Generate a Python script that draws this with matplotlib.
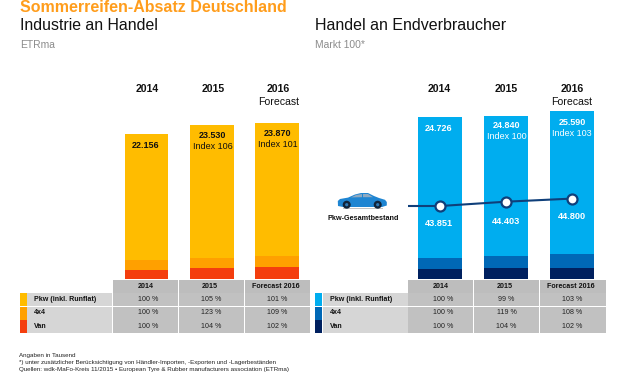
import matplotlib
matplotlib.use('Agg')
import matplotlib.pyplot as plt
from matplotlib.patches import Rectangle, Polygon, Circle

plt.rcParams['font.family'] = ['Liberation Sans', 'DejaVu Sans']

W, H = 620, 379

# Daten
years = ['2014', '2015', '2016']
head_cols = ['2014', '2015', 'Forecast 2016']
rows = ['Pkw (inkl. Runflat)', '4x4', 'Van']

handel_van = [1420, 1730, 1880]
handel_4x4 = [1480, 1530, 1640]
handel_pkw = [19256, 20270, 20350]
handel_labels = ['22.156', '23.530', '23.870']
handel_index = ['', 'Index 106', 'Index 101']
handel_table = [['100 %', '105 %', '101 %'],
                ['100 %', '123 %', '109 %'],
                ['100 %', '104 %', '102 %']]

endv_van = [1525, 1630, 1630]
endv_4x4 = [1680, 1870, 2130]
endv_pkw = [21521, 21340, 21830]
endv_labels = ['24.726', '24.840', '25.590']
endv_index = ['', 'Index 100', 'Index 103']
endv_table = [['100 %', '99 %', '103 %'],
              ['100 %', '119 %', '108 %'],
              ['100 %', '104 %', '102 %']]

bestand = [43851, 44403, 44800]
bestand_labels = ['43.851', '44.403', '44.800']

col_handel = ['#FFBC00', '#FFA000', '#F43E0E']
col_endv = ['#00ADEF', '#0068B6', '#00205F']


def px_axes(x0, y0, x1, y1):
    return fig.add_axes([x0 / W, 1 - y1 / H, (x1 - x0) / W, (y1 - y0) / H])


def stacked(ax, pkw, v4, van, cols):
    xs = range(len(pkw))
    b2 = [a + b for a, b in zip(van, v4)]
    ax.bar(xs, van, width=0.67, color=cols[2])
    ax.bar(xs, v4, width=0.67, bottom=van, color=cols[1])
    ax.bar(xs, pkw, width=0.67, bottom=b2, color=cols[0])
    ax.set_xlim(-0.5, 2.5)
    ax.axis('off')


fig = plt.figure(figsize=(W / 100, H / 100), dpi=100, facecolor='white')

# balken links
ax1 = px_axes(113.9, 100, 309.6, 279)
stacked(ax1, handel_pkw, handel_4x4, handel_van, col_handel)
ax1.set_ylim(0, 179 * 153)

# balken rechts
ax2 = px_axes(407.5, 100, 605, 279)
stacked(ax2, endv_pkw, endv_4x4, endv_van, col_endv)
ax2.set_ylim(0, 179 * 152.5)

# linie pkw-bestand auf eigener skala
ax3 = px_axes(407.5, 100, 605, 279)
ax3.patch.set_alpha(0)
ax3.axis('off')
ax3.set_xlim(-0.5, 2.5)
ax3.set_ylim(43851 - 73 * 128, 43851 + 106 * 128)
ax3.plot([-0.67, 0], [bestand[0], bestand[0]], color='#0F3F7A', lw=1.5, solid_capstyle='butt')
ax3.plot(range(3), bestand, color='#0F3F7A', lw=1.5, marker='o', ms=7.2,
         mfc='white', mec='#0F3F7A', mew=1.6)

# alles andere in pixelkoordinaten
ov = fig.add_axes([0, 0, 1, 1], zorder=5)
ov.patch.set_alpha(0)
ov.set_xlim(0, W)
ov.set_ylim(H, 0)
ov.axis('off')

ov.text(20, 7.5, 'Sommerreifen-Absatz Deutschland', fontsize=11.5, fontweight='bold', color='#FF9D1C', va='center')
ov.text(20, 26, 'Industrie an Handel', fontsize=11.4, color='#111111', va='center')
ov.text(20, 44.5, 'ETRma', fontsize=7.4, color='#8C8C8C', va='center')
ov.text(315, 26, 'Handel an Endverbraucher', fontsize=11.5, color='#111111', va='center')
ov.text(315, 44.5, 'Markt 100*', fontsize=7.4, color='#8C8C8C', va='center')

heads_l = [147.5, 213.5, 278.5]
heads_r = [439, 506.5, 572]
for i in range(3):
    ov.text(heads_l[i], 89, years[i], fontsize=7.6, fontweight='bold', ha='center', va='center', color='#111111')
    ov.text(heads_r[i], 89, years[i], fontsize=7.6, fontweight='bold', ha='center', va='center', color='#111111')
ov.text(278.5, 102, 'Forecast', fontsize=7.6, ha='center', va='center', color='#111111')
ov.text(572, 102, 'Forecast', fontsize=7.6, ha='center', va='center', color='#111111')

# werte in den balken
lab_l = [146, 212.7, 277.5]
lab_y_l = [145.5, 136, 133.5]
lab_r = [439, 506.5, 572]
lab_y_r = [128.5, 125.7, 122.5]
for i in range(3):
    ov.text(lab_l[i], lab_y_l[i], handel_labels[i], fontsize=6.5, fontweight='bold', ha='center', va='center', color='#111111')
    ov.text(lab_r[i], lab_y_r[i], endv_labels[i], fontsize=6.5, fontweight='bold', ha='center', va='center', color='white')
    if handel_index[i]:
        ov.text(lab_l[i], lab_y_l[i] + 10.7, handel_index[i], fontsize=6.5, ha='center', va='center', color='#111111')
        ov.text(lab_r[i], lab_y_r[i] + 10.7, endv_index[i], fontsize=6.5, ha='center', va='center', color='white')

best_y = [224, 221, 216.3]
for i in range(3):
    ov.text(lab_r[i], best_y[i], bestand_labels[i], fontsize=6.6, fontweight='bold', ha='center', va='center', color='white')

# auto
ov.add_patch(Rectangle((343, 207.5), 40, 1.5, fc='#C4C4C4', ec='none'))
body = [(338, 206), (337.8, 201), (340, 199), (348, 197.6), (355, 194.5), (361, 193), (368, 193), (374, 196),
        (379, 198), (385, 199.8), (386.8, 202), (386.8, 205.5), (382, 207), (343, 207)]
ov.add_patch(Polygon(body, closed=True, fc='#1E85D2', ec='none'))
ov.add_patch(Polygon([(351, 197.4), (356, 195), (362, 194), (362, 197.2)], closed=True, fc='#8FA9C0', ec='none'))
ov.add_patch(Polygon([(363, 194), (368, 194), (373, 197.2), (363, 197.2)], closed=True, fc='#8FA9C0', ec='none'))
for cx in (346.7, 377.7):
    ov.add_patch(Circle((cx, 204.7), 4, fc='#10233A', ec='none'))
    ov.add_patch(Circle((cx, 204.7), 1.6, fc='#2F79B5', ec='none'))
ov.text(363, 219, 'Pkw-Gesamtbestand', fontsize=5.2, fontweight='bold', ha='center', va='center', color='#111111')

head_off = [0.5, -1.5, -1.8]
cell_off = [2.8, 0, -0.5]


def table(x_sw, x_lab, x_cols, cols, cells):
    tops = [279.5, 293, 306.5, 320]
    bots = [292.5, 306, 319.5, 333]
    for j in range(3):
        ov.add_patch(Rectangle((x_cols[j][0], tops[0]), x_cols[j][1] - x_cols[j][0], bots[0] - tops[0], fc='#BDBDBD', ec='none'))
        ov.text(sum(x_cols[j]) / 2 + head_off[j], 286, head_cols[j], fontsize=5.15, fontweight='bold', ha='center', va='center', color='#111111')
    for r in range(3):
        t, b = tops[r + 1], bots[r + 1]
        ov.add_patch(Rectangle((x_sw, t), 7, b - t, fc=cols[r], ec='none'))
        ov.add_patch(Rectangle((x_lab, t), x_cols[0][0] - x_lab - 0.5, b - t, fc='#D6D6D6', ec='none'))
        ov.text(x_lab + 7, (t + b) / 2, rows[r], fontsize=5.15, fontweight='bold', ha='left', va='center', color='#111111')
        for j in range(3):
            ov.add_patch(Rectangle((x_cols[j][0], t), x_cols[j][1] - x_cols[j][0], b - t, fc='#C1C1C1', ec='none'))
            ov.text(sum(x_cols[j]) / 2 + cell_off[j], (t + b) / 2, cells[r][j], fontsize=5.1, ha='center', va='center', color='#222222')


table(19.5, 27, [(112.5, 178), (179, 244), (245, 310)], col_handel, handel_table)
table(314.7, 323, [(408, 473), (474, 539), (540, 605.5)], col_endv, endv_table)

# fussnoten
ov.text(19, 355, 'Angaben in Tausend', fontsize=4.5, va='center', color='#222222')
ov.text(19, 362.5, '*) unter zusätzlicher Berücksichtigung von Händler-Importen, -Exporten und -Lagerbeständen', fontsize=4.5, va='center', color='#222222')
ov.text(19, 370, 'Quellen: wdk-MaFo-Kreis 11/2015 • European Tyre & Rubber manufacturers association (ETRma)', fontsize=4.5, va='center', color='#222222')

fig.savefig('out.png', dpi=100)
